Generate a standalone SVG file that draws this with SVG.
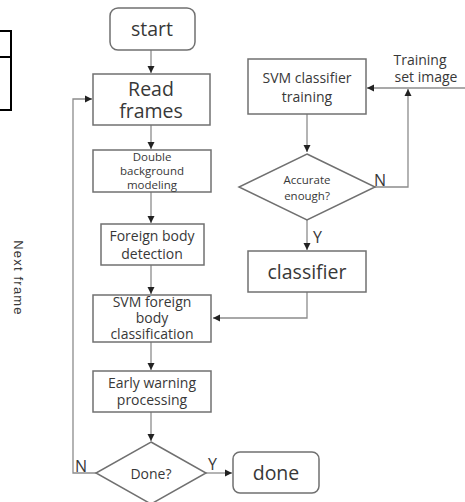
<svg xmlns="http://www.w3.org/2000/svg" width="465" height="502" viewBox="0 0 465 502">
<style>
.box{fill:#fff;stroke:#707070;stroke-width:1.5}
.ln{fill:none;stroke:#8c8c8c;stroke-width:1.3}
text{font-family:"Open Sans","Noto Sans",sans-serif;fill:#383838;text-anchor:middle}
.l{font-size:19.5px}
.m{font-size:14px}
.s{font-size:11.5px}
.lab{font-size:16px;text-anchor:start}
</style>
<defs>
<marker id="ah" markerWidth="8" markerHeight="8" refX="7" refY="4" orient="auto" markerUnits="userSpaceOnUse">
<path d="M0,0.5 L7,4 L0,7.5 Z" fill="#222"/>
</marker>
</defs>
<rect width="465" height="502" fill="#fff"/>
<g id="bracket" fill="none" stroke="#000" stroke-width="2">
<path d="M0,31 H11 V110 H0 M0,57 H11"/>
</g>
<g id="connectors">
<path class="ln" d="M151,50 V73" marker-end="url(#ah)"/>
<path class="ln" d="M151,125 V149" marker-end="url(#ah)"/>
<path class="ln" d="M151,192 V223" marker-end="url(#ah)"/>
<path class="ln" d="M151,265 V294" marker-end="url(#ah)"/>
<path class="ln" d="M151,342 V370" marker-end="url(#ah)"/>
<path class="ln" d="M151,412 V441" marker-end="url(#ah)"/>
<path class="ln" d="M206,473 H232" marker-end="url(#ah)"/>
<path class="ln" d="M96,473 H73 V99 H92" marker-end="url(#ah)"/>
<path class="ln" d="M307,114 V152" marker-end="url(#ah)"/>
<path class="ln" d="M307,220 V250" marker-end="url(#ah)"/>
<path class="ln" d="M307,292 V318 H213" marker-end="url(#ah)"/>
<path class="ln" d="M375,187 H408 V89" marker-end="url(#ah)"/>
<path class="ln" d="M465,88 H367" marker-end="url(#ah)"/>
</g>
<g id="start"><rect class="box" x="110" y="8" width="85" height="42" rx="8"/><text class="l" x="152" y="36">start</text></g>
<g id="read"><rect class="box" x="93" y="74" width="117" height="51"/><text class="l" x="151" y="96">Read</text><text class="l" x="151" y="118">frames</text></g>
<g id="double"><rect class="box" x="93" y="150" width="118" height="42"/><text class="s" x="152" y="161">Double</text><text class="s" x="152" y="175">background</text><text class="s" x="152" y="189">modeling</text></g>
<g id="foreign"><rect class="box" x="101" y="224" width="103" height="41"/><text class="m" x="152" y="241">Foreign body</text><text class="m" x="152" y="259">detection</text></g>
<g id="svmclass"><rect class="box" x="93" y="295" width="118" height="47"/><text class="m" x="152" y="307">SVM foreign</text><text class="m" x="152" y="323">body</text><text class="m" x="152" y="339">classification</text></g>
<g id="early"><rect class="box" x="93" y="371" width="118" height="41"/><text class="m" x="152" y="388">Early warning</text><text class="m" x="152" y="405">processing</text></g>
<g id="done-q"><path class="box" d="M151,442 L206,473 L151,504 L96,473 Z"/><text class="m" x="151" y="479">Done?</text></g>
<g id="done"><rect class="box" x="233" y="452" width="86" height="41" rx="7"/><text class="l" x="276" y="480">done</text></g>
<g id="svmtrain"><rect class="box" x="248" y="59" width="118" height="55"/><text class="m" x="307" y="83">SVM classifier</text><text class="m" x="307" y="102">training</text></g>
<g id="accurate"><path class="box" d="M307,154 L375,187 L307,220 L239,187 Z"/><text class="s" x="307" y="184">Accurate</text><text class="s" x="307" y="200">enough?</text></g>
<g id="classifier"><rect class="box" x="248" y="251" width="118" height="41"/><text class="l" x="307" y="279">classifier</text></g>
<g id="labels">
<text class="m" x="420" y="65">Training</text>
<text class="m" x="426" y="82">set image</text>
<text class="lab" x="374" y="186">N</text>
<text class="lab" x="313" y="243">Y</text>
<text class="lab" x="75" y="472">N</text>
<text class="lab" x="208" y="470">Y</text>
<text x="0" y="0" transform="translate(14,278) rotate(90)" style="font-family:'Liberation Sans',sans-serif;font-size:13px;letter-spacing:1.2px">Next  frame</text>
</g>
</svg>
